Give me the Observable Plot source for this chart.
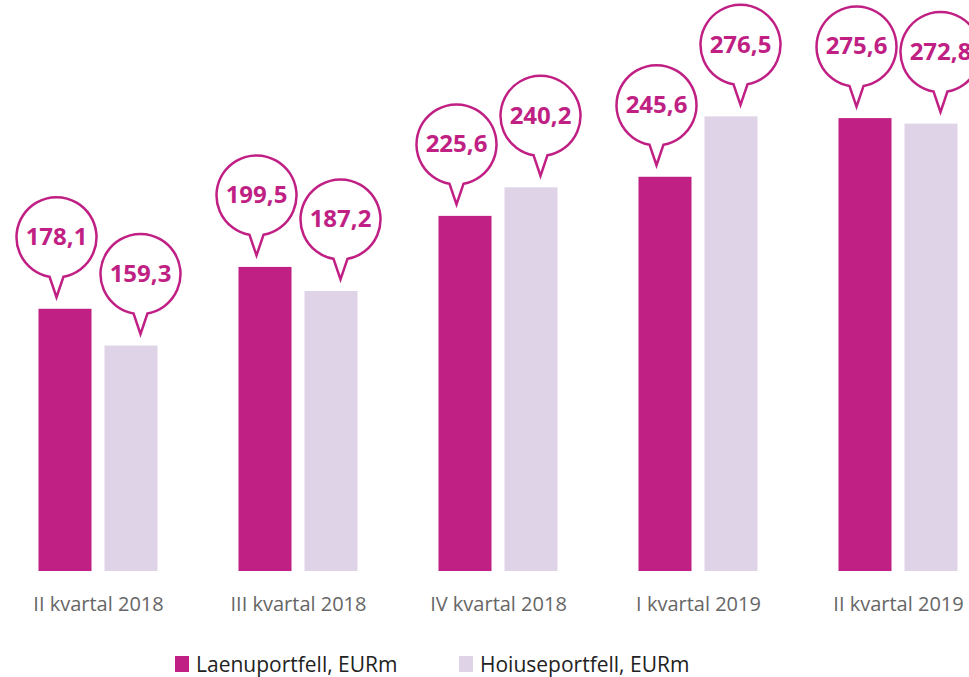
<!DOCTYPE html>
<html><head><meta charset="utf-8">
<script src="https://cdn.jsdelivr.net/npm/d3@7"></script>
<script src="https://cdn.jsdelivr.net/npm/@observablehq/plot@0.6"></script>
<style>
body{margin:0;background:#fff;font-family:"Open Sans",sans-serif;}
#chart svg{display:block;overflow:visible;}
#chart svg [aria-label^="fx-axis"]{font-size:20px;}
#legend{position:relative;height:37px;font-size:21px;color:#222;}
.item{position:absolute;top:5px;display:flex;align-items:center;height:37px;}
.sw{width:14px;height:16px;margin-right:7px;}
</style></head><body>
<div id="chart"></div>
<div id="legend"></div>
<script>
const quarters = ["II kvartal 2018","III kvartal 2018","IV kvartal 2018","I kvartal 2019","II kvartal 2019"];
const seriesNames = ["Laenuportfell, EURm","Hoiuseportfell, EURm"];
const loanValues = [178.1, 199.5, 225.6, 245.6, 275.6];
const depositValues = [159.3, 187.2, 240.2, 276.5, 272.8];
const colors = ["#C01F84", "#DFD3E7"];
const yBase = 44;

const data = quarters.flatMap((q, i) => [
  {quarter: q, series: seriesNames[0], value: loanValues[i]},
  {quarter: q, series: seriesNames[1], value: depositValues[i]}
]);
const fmt = d => d.value.toFixed(1).replace(".", ",");

const bubble = {
  draw(ctx) {
    const r = 40, c = -60, hw = 7;
    const h = Math.sqrt(r * r - hw * hw);
    const a1 = Math.atan2(h, -hw), a2 = Math.atan2(h, hw);
    ctx.moveTo(0, 0);
    ctx.lineTo(-hw, c + h);
    ctx.arc(0, c, r, a1, a2, false);
    ctx.closePath();
  }
};

const magenta = colors[0];
const gap = 12;
function bubbleMarks(series, dx) {
  const sub = data.filter(d => d.series === series);
  return [
    Plot.dot(sub, {fx: "quarter", x: "series", y: "value", r: 40, symbol: bubble, dx, dy: -gap,
      fill: "white", stroke: magenta, strokeWidth: 2.5}),
    Plot.text(sub, {fx: "quarter", x: "series", y: "value", text: fmt, dx, dy: -gap - 60,
      fill: magenta, fontWeight: "bold", fontSize: 24, fontFamily: "Open Sans"})
  ];
}

const chart = Plot.plot({
  width: 969,
  height: 640,
  marginLeft: 37.5,
  marginRight: 0,
  marginTop: 109.5,
  marginBottom: 69,
  style: {fontSize: "20px", color: "#666", fontFamily: "Open Sans", background: "white"},
  fx: {domain: quarters, axis: "bottom", label: null, tickSize: 0, tickPadding: 25,
       paddingInner: 0.4, paddingOuter: 0.02875, align: 0},
  x: {domain: seriesNames, axis: null, paddingInner: 0.194, paddingOuter: 0},
  y: {domain: [yBase, 280], axis: null},
  color: {domain: seriesNames, range: colors},
  marks: [
    Plot.barY(data, {fx: "quarter", x: "series", y1: yBase, y2: "value", fill: "series"}),
    ...bubbleMarks(seriesNames[0], -9),
    ...bubbleMarks(seriesNames[1], 9)
  ]
});
document.getElementById("chart").append(chart);

const legend = document.getElementById("legend");
const lefts = [175, 459];
seriesNames.forEach((s, i) => {
  const it = document.createElement("div");
  it.className = "item";
  it.style.left = lefts[i] + "px";
  it.innerHTML = `<span class="sw" style="background:${colors[i]}"></span><span>${s}</span>`;
  legend.append(it);
});
</script>
</body></html>
